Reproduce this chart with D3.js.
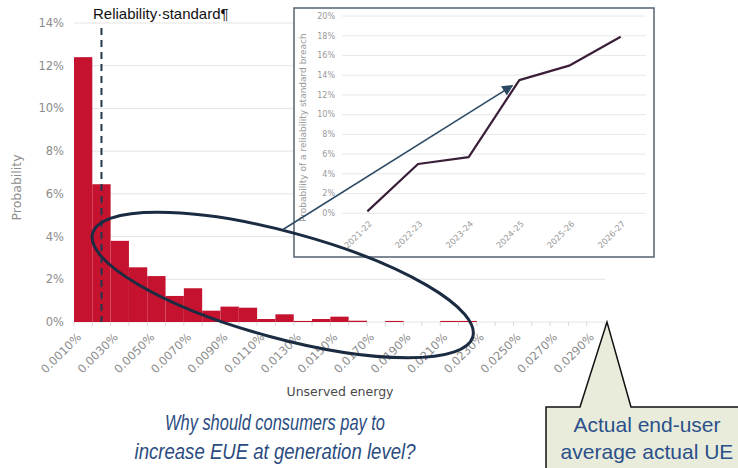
<!DOCTYPE html>
<html>
<head>
<meta charset="utf-8">
<script src="https://cdn.jsdelivr.net/npm/d3@7"></script>
<style>
  html, body { margin: 0; padding: 0; background: #fff; }
  svg { display: block; }
</style>
</head>
<body>
<svg id="chart" width="738" height="468"></svg>
<script>
// ---------- DATA ----------
const ueCategories = ["0.0010%","0.0020%","0.0030%","0.0040%","0.0050%","0.0060%","0.0070%","0.0080%","0.0090%","0.0100%",
  "0.0110%","0.0120%","0.0130%","0.0140%","0.0150%","0.0160%","0.0170%","0.0180%","0.0190%","0.0200%",
  "0.0210%","0.0220%","0.0230%","0.0240%","0.0250%","0.0260%","0.0270%","0.0280%","0.0290%"];
const ueProbability = [12.4, 6.45, 3.8, 2.56, 2.15, 1.22, 1.58, 0.53, 0.72, 0.67,
  0.14, 0.36, 0.05, 0.14, 0.25, 0.06, 0, 0.05, 0, 0,
  0.05, 0.05, 0, 0, 0, 0, 0, 0, 0];
const mainYTicks = [0, 2, 4, 6, 8, 10, 12, 14];
const reliabilityStandard = "0.0020%";

const years = ["2021-22","2022-23","2023-24","2024-25","2025-26","2026-27"];
const breachProbability = [0.2, 5.0, 5.7, 13.5, 15.0, 17.9];
const insetYTicks = [0, 2, 4, 6, 8, 10, 12, 14, 16, 18, 20];

const calloutLines = ["Actual end-user", "average actual UE"];
const questionLines = ["Why should consumers pay to", "increase EUE at generation level?"];

// ---------- LAYOUT ----------
const svg = d3.select("#chart");
const main = { left: 74, right: 605, top: 23, bottom: 322 };
const inset = { boxL: 294, boxR: 654, boxT: 8, boxB: 257, left: 342, right: 646, top: 16, bottom: 213.3 };
const tickFont = "'DejaVu Sans', sans-serif";
const grey = "#8c8c8c";

const x = d3.scaleBand().domain(ueCategories).range([main.left, main.right]).padding(0);
const y = d3.scaleLinear().domain([0, 14]).range([main.bottom, main.top]);

// gridlines
svg.append("g").selectAll("line").data(mainYTicks).join("line")
  .attr("x1", main.left).attr("x2", main.right)
  .attr("y1", d => y(d)).attr("y2", d => y(d))
  .attr("stroke", "#e4e4e4").attr("stroke-width", 1);

// y tick labels
svg.append("g").selectAll("text").data(mainYTicks).join("text")
  .attr("x", 64).attr("y", d => y(d)).attr("dy", "0.35em")
  .attr("text-anchor", "end")
  .attr("font-family", tickFont).attr("font-size", 11.5).attr("fill", grey)
  .text(d => d + "%");

// bars
svg.append("g").selectAll("rect").data(ueCategories).join("rect")
  .attr("x", d => x(d)).attr("width", x.bandwidth())
  .attr("y", (d, i) => y(ueProbability[i]))
  .attr("height", (d, i) => y(0) - y(ueProbability[i]))
  .attr("fill", "#c4122f");

// x axis ticks
const tickPos = ueCategories.map(c => x(c)).concat([main.right]);
svg.append("g").selectAll("line").data(tickPos).join("line")
  .attr("x1", d => d).attr("x2", d => d)
  .attr("y1", main.bottom).attr("y2", main.bottom + 4)
  .attr("stroke", "#d9d9d9");

// x tick labels (every other category)
svg.append("g").selectAll("text").data(ueCategories.filter((c, i) => i % 2 === 0)).join("text")
  .attr("transform", d => `translate(${x(d) + x.bandwidth() / 2 - 4},${main.bottom + 13}) rotate(-45)`)
  .attr("text-anchor", "end").attr("dy", "0.35em")
  .attr("font-family", tickFont).attr("font-size", 11.5).attr("fill", grey)
  .text(d => d);

// axis titles
svg.append("text")
  .attr("transform", `translate(21,${(main.top + main.bottom) / 2 + 15}) rotate(-90)`)
  .attr("text-anchor", "middle")
  .attr("font-family", tickFont).attr("font-size", 12.5).attr("fill", grey)
  .text("Probability");
svg.append("text")
  .attr("x", 340).attr("y", 396)
  .attr("text-anchor", "middle")
  .attr("font-family", tickFont).attr("font-size", 12.5).attr("fill", "#4a4a4a")
  .text("Unserved energy");

// reliability standard dashed line
const rsX = x(reliabilityStandard) + x.bandwidth() / 2;
svg.append("line")
  .attr("x1", rsX).attr("x2", rsX).attr("y1", main.top + 5).attr("y2", main.bottom)
  .attr("stroke", "#24394f").attr("stroke-width", 2).attr("stroke-dasharray", "7,5");
svg.append("text")
  .attr("x", rsX - 8.5).attr("y", 19)
  .attr("font-family", "'Liberation Sans', Arial, sans-serif").attr("font-size", 15).attr("fill", "#111")
  .text("Reliability·standard¶");

// ---------- INSET ----------
const ix = d3.scaleBand().domain(years).range([inset.left, inset.right]);
const iy = d3.scaleLinear().domain([0, 20]).range([inset.bottom, inset.top]);

svg.append("rect")
  .attr("x", inset.boxL).attr("y", inset.boxT)
  .attr("width", inset.boxR - inset.boxL).attr("height", inset.boxB - inset.boxT)
  .attr("fill", "#fff").attr("stroke", "#5d6b79").attr("stroke-width", 1.6);

svg.append("g").selectAll("line").data(insetYTicks).join("line")
  .attr("x1", inset.left).attr("x2", inset.right)
  .attr("y1", d => iy(d)).attr("y2", d => iy(d))
  .attr("stroke", "#e8e8e8");

svg.append("g").selectAll("text").data(insetYTicks).join("text")
  .attr("x", 335).attr("y", d => iy(d)).attr("dy", "0.35em")
  .attr("text-anchor", "end")
  .attr("font-family", tickFont).attr("font-size", 8).attr("fill", "#999")
  .text(d => d + "%");

svg.append("g").selectAll("text").data(years).join("text")
  .attr("transform", d => `translate(${ix(d) + ix.bandwidth() / 2 + 3},${inset.bottom + 9}) rotate(-45)`)
  .attr("text-anchor", "end").attr("dy", "0.35em")
  .attr("font-family", tickFont).attr("font-size", 8.3).attr("fill", "#999")
  .text(d => d);

svg.append("text")
  .attr("transform", `translate(306,${(inset.top + inset.bottom) / 2 + 13}) rotate(-90)`)
  .attr("text-anchor", "middle")
  .attr("font-family", tickFont).attr("font-size", 9).attr("fill", "#9a9a9a")
  .text("Probability of a reliability standard breach");

const line = d3.line()
  .x((d, i) => ix(years[i]) + ix.bandwidth() / 2)
  .y(d => iy(d));
svg.append("path").datum(breachProbability)
  .attr("d", line).attr("fill", "none")
  .attr("stroke", "#3b1e37").attr("stroke-width", 2.2).attr("stroke-linejoin", "round");

// ---------- ANNOTATIONS ----------
// ellipse around the tail of the distribution (positioned in data units)
const ellCx = x("0.0120%") + x.bandwidth() * 0.4;
const ellCy = y(1.73);
svg.append("ellipse")
  .attr("cx", 0).attr("cy", 0).attr("rx", 197).attr("ry", 53)
  .attr("transform", `translate(${ellCx},${ellCy}) rotate(15.2)`)
  .attr("fill", "none").attr("stroke", "#1b2b42").attr("stroke-width", 3);

// arrow from ellipse to inset 2024-25 point
svg.append("defs").append("marker")
  .attr("id", "arrowHead").attr("viewBox", "0 0 10 10")
  .attr("refX", 9).attr("refY", 5).attr("markerWidth", 12).attr("markerHeight", 11)
  .attr("orient", "auto").attr("markerUnits", "userSpaceOnUse")
  .append("path").attr("d", "M0,0 L10,5 L0,10 Z").attr("fill", "#2c4a64");
const arrowEndX = ix("2024-25") + ix.bandwidth() / 2 - 7;
const arrowEndY = iy(12.95);
svg.append("line")
  .attr("x1", 283).attr("y1", 229.5).attr("x2", arrowEndX).attr("y2", arrowEndY)
  .attr("stroke", "#2c4a64").attr("stroke-width", 1.5)
  .attr("marker-end", "url(#arrowHead)");

// callout
const tipX = x.range()[1] + 2, tipY = main.bottom;
svg.append("path")
  .attr("d", `M546,407 L580,407 L${tipX},${tipY} L631,407 L745,407 L745,475 L546,475 Z`)
  .attr("fill", "#e9ecdb").attr("stroke", "#111").attr("stroke-width", 1.5);
svg.append("text")
  .attr("font-family", "'Liberation Sans', Arial, sans-serif").attr("font-size", 21)
  .attr("fill", "#2b508a").attr("text-anchor", "middle")
  .selectAll("tspan").data(calloutLines).join("tspan")
  .attr("x", 647).attr("y", (d, i) => 432 + i * 26.5)
  .text(d => d);

// question (narrow italic)
const qWidths = [220, 281];
svg.append("g").selectAll("text").data(questionLines).join("text")
  .attr("font-family", "'Liberation Sans Narrow', 'Arial Narrow', 'Liberation Sans', Arial, sans-serif")
  .attr("font-size", 22).attr("font-style", "italic")
  .attr("fill", "#2b4c80").attr("text-anchor", "middle")
  .attr("x", 275).attr("y", (d, i) => 430 + i * 29)
  .attr("textLength", (d, i) => qWidths[i]).attr("lengthAdjust", "spacingAndGlyphs")
  .text(d => d);
</script>
</body>
</html>
